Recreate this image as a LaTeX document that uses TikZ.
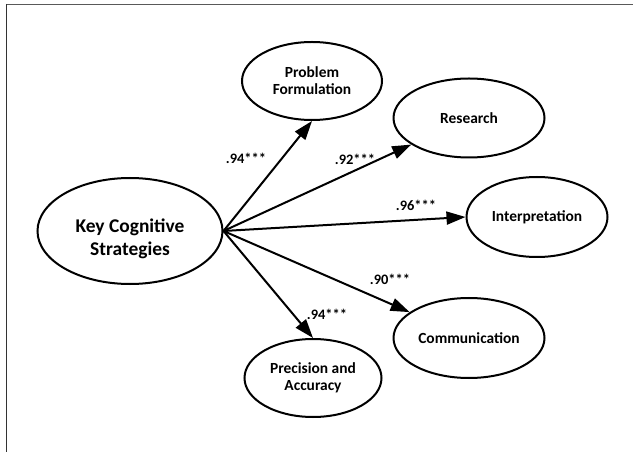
\documentclass[tikz,border=0pt]{standalone}
\usepackage{fontspec}
\setmainfont{Carlito}
\usetikzlibrary{shapes.geometric,arrows.meta}
\begin{document}
\begin{tikzpicture}[x=1bp,y=-1bp,
  lat/.style={draw,line width=2bp,ellipse,inner sep=0pt,align=center,font=\bfseries\fontsize{15.5}{17}\selectfont},
  conn/.style={line width=2bp,-{Triangle[length=19bp,width=13bp]}},
  coef/.style={font=\bfseries\fontsize{14.5}{16}\selectfont,inner sep=0pt}]
\useasboundingbox (0,0) rectangle (633,452);
\draw[gray!70!black,line width=1.2bp] (6,4.5) -- (633,4.5);
\draw[black!80,line width=1.2bp] (6.5,4) -- (6.5,452);
\node[lat,minimum width=185bp,minimum height=106bp] (key) at (130,231) {};
\node[align=center,inner sep=0pt,font=\bfseries\fontsize{19.5}{23}\selectfont] (keytext) at (130,239) {Key Cognitive\\Strategies};
\node[lat,minimum width=140bp,minimum height=78bp] (pf) at (312,81) {Problem\\Formulation};
\node[lat,minimum width=151bp,minimum height=79bp] (res) at (469,118) {Research};
\node[lat,minimum width=141bp,minimum height=80bp] (int) at (537,217) {Interpretation};
\node[lat,minimum width=151bp,minimum height=80bp] (com) at (469,338) {Communication};
\node[lat,minimum width=137bp,minimum height=78bp] (pa) at (313,378) {Precision and\\Accuracy};
\draw[conn] (key.east) -- (pf.south);
\draw[conn] (key.east) -- (res);
\draw[conn] (key.east) -- (int.west);
\draw[conn] (key.east) -- (com);
\draw[conn] (key.east) -- (pa.north);
\node[coef] (l1) at (246,158) {.94***};
\node[coef] (l2) at (355,159) {.92***};
\node[coef] (l3) at (416,205) {.96***};
\node[coef] (l4) at (390,279) {.90***};
\node[coef] (l5) at (327,314) {.94***};
\end{tikzpicture}
\end{document}
